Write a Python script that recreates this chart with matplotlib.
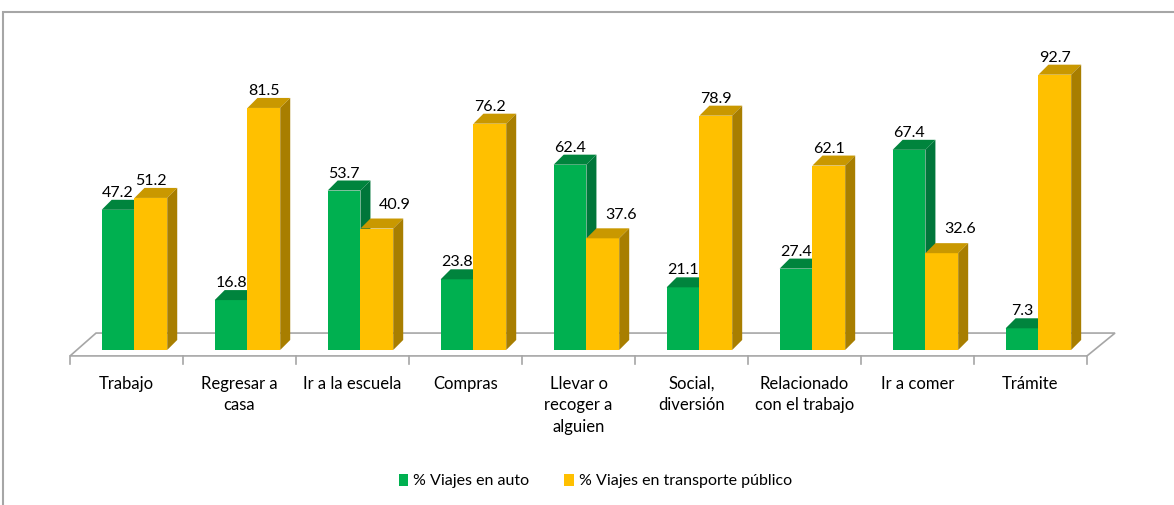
"""
Porcentaje de viajes en auto y en transporte publico por motivo de viaje.
Barras con efecto 3D dibujadas a mano (cara frontal, tapa y lateral).
"""

import matplotlib
matplotlib.use("Agg")
import matplotlib.pyplot as plt
from matplotlib.patches import Polygon, Patch, Rectangle

plt.rcParams["font.family"] = ["Lato", "DejaVu Sans"]

MOTIVOS = ["Trabajo", "Regresar a\ncasa", "Ir a la escuela", "Compras",
           "Llevar o\nrecoger a\nalguien", "Social,\ndiversión",
           "Relacionado\ncon el trabajo", "Ir a comer", "Trámite"]
AUTO = [47.2, 16.8, 53.7, 23.8, 62.4, 21.1, 27.4, 67.4, 7.3]
PUBLICO = [51.2, 81.5, 40.9, 76.2, 37.6, 78.9, 62.1, 32.6, 92.7]
SERIES = ["% Viajes en auto", "% Viajes en transporte público"]

# (frente, tapa, lateral)
VERDE = ("#00B050", "#00843D", "#00763A")
AMARILLO = ("#FFC000", "#C99800", "#A87E00")
GRIS = "#A6A6A6"

ANCHO = 0.29      # ancho de cada barra (en unidades de categoria)
OFFSET = 0.28     # donde arranca la barra verde dentro de la categoria
DX, DY = 0.0885, 3.37   # profundidad del efecto 3D


def barra(ax, x0, h, colores, corrido=False):
    frente, tapa, lado = colores
    ax.add_patch(Polygon([(x0, 0), (x0 + ANCHO, 0), (x0 + ANCHO, h), (x0, h)],
                         closed=True, facecolor=frente, edgecolor="none"))
    ax.add_patch(Polygon([(x0, h), (x0 + ANCHO, h), (x0 + ANCHO + DX, h + DY),
                          (x0 + DX, h + DY)],
                         closed=True, facecolor=tapa, edgecolor="none"))
    ax.add_patch(Polygon([(x0 + ANCHO, 0), (x0 + ANCHO + DX, DY),
                          (x0 + ANCHO + DX, h + DY), (x0 + ANCHO, h)],
                         closed=True, facecolor=lado, edgecolor="none"))
    # si la barra de atras es mas alta, excel corre la etiqueta a la derecha
    xt = x0 + ANCHO / 2 + (0.16 if corrido else 0)
    pad = 3.3 if corrido else 1.0
    ax.text(xt, h + DY + pad, f"{h:.1f}", ha="center",
            va="baseline", fontsize=11.5, color="black")


fig = plt.figure(figsize=(11.74, 5.05), dpi=100)
ax = fig.add_axes([0, 0, 1, 1])
ax.set_xlim(-0.62, 9.77)
ax.set_ylim(-52.2, 117.85)
ax.axis("off")

# borde del area del grafico (se corta en la imagen original)
fig.patches.append(Rectangle((3 / 1174, -0.5), 2, 0.5 + 1 - 12 / 505,
                             transform=fig.transFigure, fill=False,
                             edgecolor=GRIS, linewidth=1.5))

n = len(MOTIVOS)
# piso
ax.add_patch(Polygon([(0, -2.0), (n, -2.0), (n + 0.248, 5.7), (0.23, 5.7)],
                     closed=True, facecolor="white", edgecolor=GRIS,
                     linewidth=1.2))
for i in range(n + 1):
    ax.plot([i, i], [-2.0, -4.8], color=GRIS, linewidth=1.2)

for i in range(n):
    barra(ax, i + OFFSET, AUTO[i], VERDE)
    barra(ax, i + OFFSET + ANCHO, PUBLICO[i], AMARILLO,
          corrido=PUBLICO[i] < AUTO[i])
    ax.text(i + 0.5, -8.6, MOTIVOS[i], ha="center", va="top",
            fontsize=12, linespacing=1.45)

handles = [Patch(facecolor=VERDE[0]), Patch(facecolor=AMARILLO[0])]
fig.legend(handles, SERIES, loc="center", bbox_to_anchor=(0.507, 0.047),
           ncol=2, frameon=False, fontsize=11.5, handlelength=0.6,
           handleheight=0.75, handletextpad=0.3, columnspacing=2.2)

plt.savefig("out.png", dpi=100)
